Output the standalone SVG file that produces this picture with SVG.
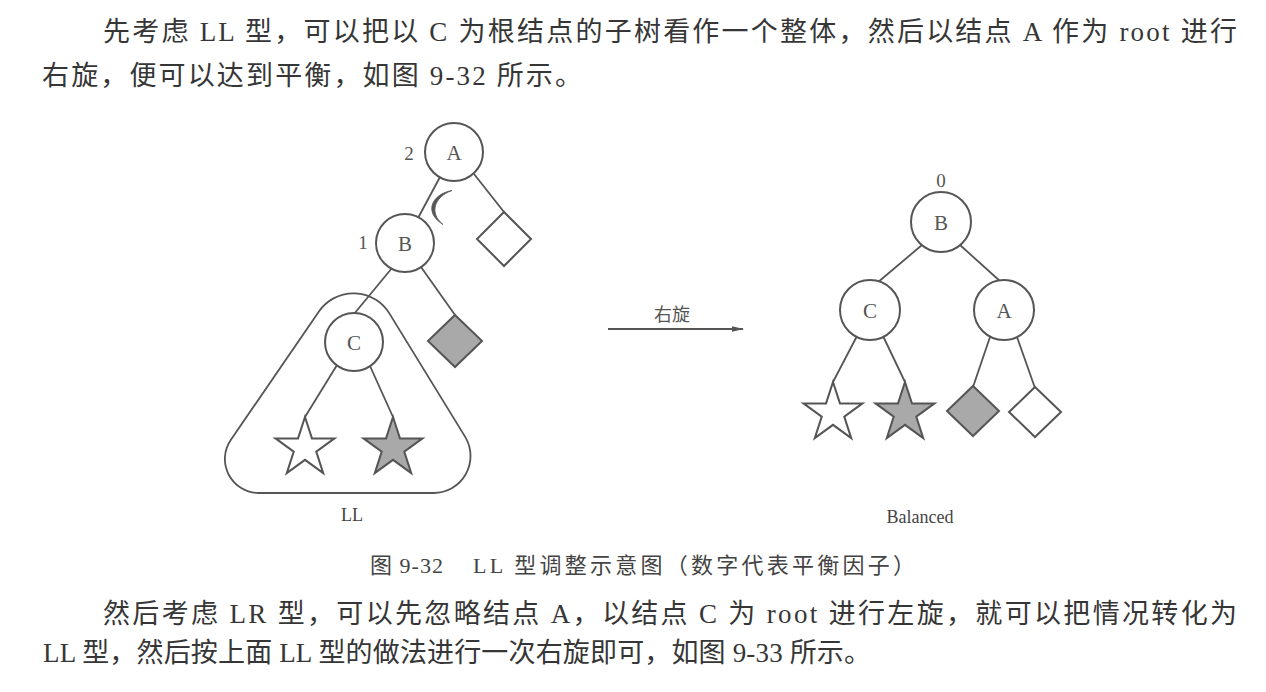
<svg xmlns="http://www.w3.org/2000/svg" width="1266" height="692" viewBox="0 0 1266 692">
<style>
.body{font-family:"Liberation Serif","Noto Sans CJK SC",serif;font-size:27px;fill:#363636}
.cap{font-family:"Liberation Serif","Noto Sans CJK SC",serif;font-size:22px;fill:#444}
.lbl{font-family:"Liberation Serif",serif;font-size:21px;fill:#555;text-anchor:middle}
.bf{font-family:"Liberation Serif",serif;font-size:19px;fill:#555;text-anchor:middle}
.sub{font-family:"Liberation Serif",serif;font-size:18px;fill:#444;text-anchor:middle}
.nd{fill:#fff;stroke:#555;stroke-width:2}
.gray{fill:#a9a9a9;stroke:#555;stroke-width:2}
.edge{stroke:#555;stroke-width:1.8;fill:none}
</style>
<defs>
<path id="star" d="M0,-31 L6.96,-9.58 L29.48,-9.58 L11.26,3.66 L18.22,25.08 L0,11.84 L-18.22,25.08 L-11.26,3.66 L-29.48,-9.58 L-6.96,-9.58 Z"/>
<marker id="arr" markerUnits="userSpaceOnUse" markerWidth="12" markerHeight="8" refX="11" refY="4" orient="auto">
<path d="M0,1.2 L12,4 L0,6.8 Z" fill="#555"/>
</marker>
</defs>
<rect width="1266" height="692" fill="#fff"/>

<g id="paragraph-top">
<text class="body" x="103" y="41" textLength="1134" lengthAdjust="spacing">先考虑 LL 型，可以把以 C 为根结点的子树看作一个整体，然后以结点 A 作为 root 进行</text>
<text class="body" x="42" y="85" textLength="540" lengthAdjust="spacing">右旋，便可以达到平衡，如图 9-32 所示。</text>
</g>

<g id="connectors">
<line class="edge" x1="440" y1="177" x2="418" y2="218"/>
<line class="edge" x1="474" y1="174" x2="504" y2="212"/>
<line class="edge" x1="392" y1="268" x2="354" y2="314"/>
<line class="edge" x1="421" y1="267" x2="455" y2="315"/>
<line class="edge" x1="337" y1="365" x2="305" y2="417"/>
<line class="edge" x1="370" y1="366" x2="393" y2="417"/>
<line class="edge" x1="922" y1="245" x2="877" y2="283"/>
<line class="edge" x1="960" y1="245" x2="1001" y2="282"/>
<line class="edge" x1="857" y1="336" x2="833" y2="382"/>
<line class="edge" x1="883" y1="336" x2="905" y2="382"/>
<line class="edge" x1="990" y1="337" x2="973" y2="387"/>
<line class="edge" x1="1017" y1="337" x2="1035" y2="388"/>
<line x1="608" y1="329" x2="743" y2="329" stroke="#555" stroke-width="2.2" marker-end="url(#arr)"/>
<path d="M452,190.5 C432,194 423,212 443,224.5 C429,213 434,197 452,190.5 Z" fill="#555" stroke="#555" stroke-width="0.8"/>
</g>

<g id="ll-subtree">
<path d="M319.1,311.3 A42,42 0 0 1 389.5,313.6 L465.2,436.9 A37,37 0 0 1 433.5,493 L258.8,493 A34,34 0 0 1 230.9,439.7 Z" fill="none" stroke="#555" stroke-width="1.8"/>
</g>

<g id="left-A">
<circle class="nd" cx="454" cy="152" r="29"/>
<text class="lbl" x="454" y="160">A</text>
<text class="bf" x="409" y="160">2</text>
</g>
<g id="left-B">
<circle class="nd" cx="405" cy="243" r="29"/>
<text class="lbl" x="405" y="251">B</text>
<text class="bf" x="363" y="249">1</text>
</g>
<g id="left-C">
<circle class="nd" cx="354" cy="342" r="29"/>
<text class="lbl" x="354" y="350">C</text>
</g>
<g id="left-diamond-white">
<polygon class="nd" points="504,212 531,239 504,266 477,239"/>
</g>
<g id="left-diamond-gray">
<polygon class="gray" points="455,315 482,341 455,367 428,341"/>
</g>
<g id="left-star-white">
<use href="#star" x="305" y="448" class="nd"/>
</g>
<g id="left-star-gray">
<use href="#star" x="393" y="448" class="gray"/>
</g>
<g id="label-LL">
<text class="sub" x="352" y="521">LL</text>
</g>

<g id="arrow-label">
<text x="672" y="321" font-family="'Noto Sans CJK SC',sans-serif" font-size="18" fill="#555" text-anchor="middle">右旋</text>
</g>

<g id="right-B">
<circle class="nd" cx="941" cy="222" r="30"/>
<text class="lbl" x="941" y="230">B</text>
<text class="bf" x="941" y="187">0</text>
</g>
<g id="right-C">
<circle class="nd" cx="870" cy="310" r="30"/>
<text class="lbl" x="870" y="318">C</text>
</g>
<g id="right-A">
<circle class="nd" cx="1004" cy="310" r="30"/>
<text class="lbl" x="1004" y="318">A</text>
</g>
<g id="right-star-white">
<use href="#star" x="833" y="413" class="nd"/>
</g>
<g id="right-star-gray">
<use href="#star" x="905" y="413" class="gray"/>
</g>
<g id="right-diamond-gray">
<polygon class="gray" points="973,386 999,411 973,436 947,411"/>
</g>
<g id="right-diamond-white">
<polygon class="nd" points="1035,387 1061,412 1035,437 1009,412"/>
</g>
<g id="label-balanced">
<text class="sub" x="920" y="523">Balanced</text>
</g>

<g id="caption">
<text class="cap" x="370" y="573" textLength="73" lengthAdjust="spacing">图 9-32</text>
<text class="cap" x="473" y="573" textLength="442" lengthAdjust="spacing">LL 型调整示意图（数字代表平衡因子）</text>
</g>

<g id="paragraph-bottom">
<text class="body" x="103" y="623" textLength="1134" lengthAdjust="spacing">然后考虑 LR 型，可以先忽略结点 A，以结点 C 为 root 进行左旋，就可以把情况转化为</text>
<text class="body" x="43" y="662" textLength="828" lengthAdjust="spacing">LL 型，然后按上面 LL 型的做法进行一次右旋即可，如图 9-33 所示。</text>
</g>
</svg>
